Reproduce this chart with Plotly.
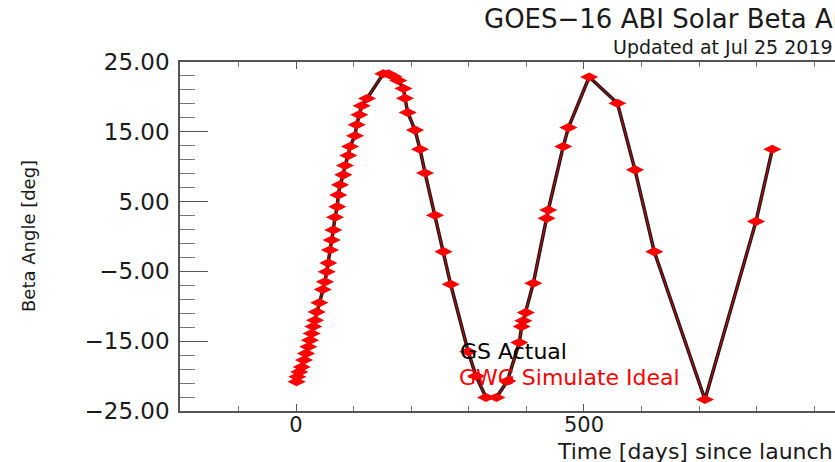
import plotly.graph_objects as go

# Time since launch [days] and beta angle [deg]
days = [1, 2.3, 5.7, 9.9, 13.9, 17.4, 21.4, 24.3, 27.3, 30.0, 33.0, 35.9, 40.5,
        46.4, 50.3, 53.3, 56.1, 59.0, 62.0, 64.8, 67.7, 71.7, 73.4, 76.4, 82.1,
        85.0, 90.8, 93.8, 102.4, 105.4, 109.9, 114.0, 123.3,
        151.6, 160.2, 168.9, 177.6, 186.6, 189.2, 194.0, 206.6, 215.3, 224.0,
        241.3, 256.0, 268.5, 299.0, 312.5, 330.0, 348.0, 367.0, 387.7, 391.8,
        394.6, 399.0, 412.0, 435.0, 438.0, 464.0, 473.0, 509.0, 558.0, 588.5,
        622.0, 710.0, 798.6, 827.0]
beta = [-20.8, -20.1, -19.4, -18.7, -17.7, -16.75, -15.8, -14.85, -13.9, -12.9,
        -12.0, -10.8, -9.5, -7.6, -6.5, -5.05, -3.8, -1.93, -0.5, 0.94, 2.76,
        4.28, 5.96, 7.4, 8.83, 10.17, 11.6, 12.9, 14.43, 16.0, 17.44, 18.73,
        19.78, 23.32, 23.32, 22.93, 22.36, 21.2, 19.8, 17.77, 15.24, 12.5, 9.1,
        3.05, -2.17, -6.85, -16.5, -20.0, -23.06, -23.06, -20.7, -15.2, -12.9,
        -12.07, -10.9, -6.7, 2.6, 3.8, 12.9, 15.6, 22.85, 19.1, 9.55, -2.17,
        -23.35, 2.16, 12.5]

series_names = ["GS Actual", "GWG Simulate Ideal"]
title_text = "GOES\u221216 ABI Solar Beta Angle"
subtitle_text = "Updated at Jul 25 2019"
x_title = "Time [days] since launch"
y_title = "Beta Angle [deg]"

W, H = 835, 462
L, T, B = 180, 62, 51
PW, PH = W - L, H - T - B


def px(x):
    return (x - L) / PW


def py(y):
    return (H - B - y) / PH


FONT = "DejaVu Sans"

fig = go.Figure()
fig.add_trace(go.Scatter(x=days, y=beta, mode="lines", name=series_names[0],
                         line=dict(color="#1a1a1a", width=3.5),
                         showlegend=False, hoverinfo="skip"))
fig.add_trace(go.Scatter(x=days, y=beta, mode="lines+markers", name=series_names[1],
                         line=dict(color="#e00000", width=1),
                         marker=dict(symbol="diamond-wide", size=13, color="#ff0000",
                                     line=dict(width=0)),
                         showlegend=False))

fig.update_layout(
    width=W, height=H, autosize=False,
    margin=dict(l=L, r=0, t=T, b=B, pad=0),
    paper_bgcolor="white", plot_bgcolor="white",
    font=dict(family=FONT, color="#1a1a1a"),
    showlegend=False,
)

fig.update_xaxes(
    range=[-201.4, 935.8], showgrid=False, zeroline=False,
    showline=True, linecolor="#555", linewidth=1.5, mirror="ticks",
    ticks="inside", ticklen=7, tickwidth=1, tickcolor="#555",
    tick0=0, dtick=500,
    tickfont=dict(size=21, family=FONT, color="#1a1a1a"),
    ticklabelstandoff=-6,
    minor=dict(ticks="inside", ticklen=5, tickwidth=1, tickcolor="#777",
               tick0=0, dtick=100, showgrid=False),
)
fig.update_yaxes(
    range=[-25, 25], showgrid=False, zeroline=False,
    showline=True, linecolor="#555", linewidth=1.5, mirror=False,
    ticks="inside", ticklen=28, tickwidth=1, tickcolor="#555",
    tick0=5, dtick=10, tickformat=".2f",
    tickfont=dict(size=23, family=FONT, color="#1a1a1a"),
    ticklabelstandoff=4,
    minor=dict(ticks="inside", ticklen=15, tickwidth=1, tickcolor="#777",
               tick0=1, dtick=2, showgrid=False),
)

ann = [
    dict(text=title_text, x=px(483), y=py(19), font=dict(size=26, color="#1a1a1a")),
    dict(text=subtitle_text, x=px(612), y=py(47), font=dict(size=19, color="#1a1a1a")),
    dict(text=x_title, x=px(556), y=py(451), font=dict(size=22, color="#1a1a1a")),
    dict(text=series_names[0], x=px(459), y=py(351), font=dict(size=22, color="#000000")),
    dict(text=series_names[1], x=px(458), y=py(377), font=dict(size=22, color="#ff0000")),
]
for a in ann:
    fig.add_annotation(xref="paper", yref="paper", xanchor="left", yanchor="middle",
                       showarrow=False, font_family=FONT, borderpad=0,
                       **{k: v for k, v in a.items()})

fig.add_annotation(text=y_title, xref="paper", yref="paper", x=px(28), y=py(236),
                   xanchor="center", yanchor="middle", textangle=-90, showarrow=False,
                   font=dict(family=FONT, size=18, color="#1a1a1a"))

fig.write_html(
    "out.html",
    config={"displayModeBar": False},
    post_script="document.body.style.margin='0';document.body.style.overflow='hidden';",
)
